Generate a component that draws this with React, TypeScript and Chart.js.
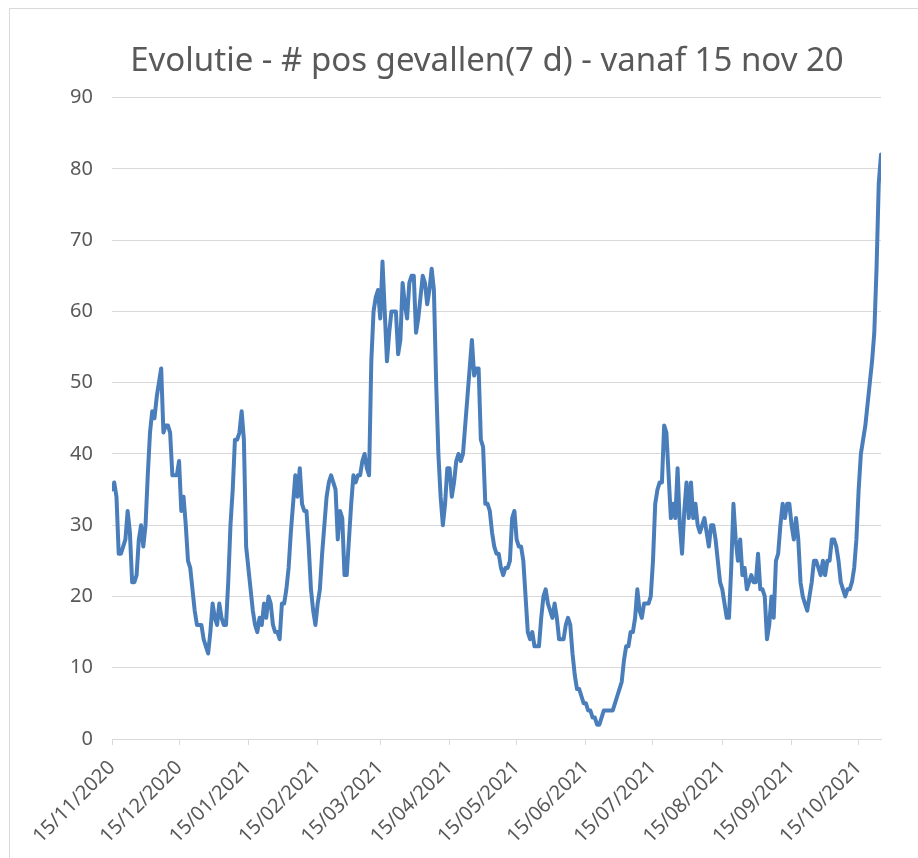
import React, { useEffect, useRef } from "react";
import { Chart, registerables } from "chart.js";

Chart.register(...registerables);

const TITLE = "Evolutie - # pos gevallen(7 d) - vanaf 15 nov 20";

// Daily values, starting 15/11/2020 (day 0) up to 25/10/2021 (day 344)
const VALUES = [
  35, 36, 34, 26, 26, 27, 28, 32, 29, 22,
  22, 23, 28, 30, 27, 30, 37, 43, 46, 45,
  48, 50, 52, 43, 44, 44, 43, 37, 37, 37,
  39, 32, 34, 30, 25, 24, 21, 18, 16, 16,
  16, 14, 13, 12, 15, 19, 17, 16, 19, 17,
  16, 16, 22, 30, 35, 42, 42, 43, 46, 42,
  27, 24, 21, 18, 16, 15, 17, 16, 19, 17,
  20, 19, 16, 15, 15, 14, 19, 19, 21, 24,
  29, 33, 37, 34, 38, 33, 32, 32, 27, 21,
  18, 16, 19, 21, 26, 30, 34, 36, 37, 36,
  35, 28, 32, 31, 23, 23, 28, 33, 37, 36,
  37, 37, 39, 40, 38, 37, 53, 60, 62, 63,
  59, 67, 60, 53, 57, 60, 60, 60, 54, 56,
  64, 61, 59, 64, 65, 65, 57, 59, 62, 65,
  64, 61, 63, 66, 63, 50, 40, 34, 30, 33,
  38, 38, 34, 36, 39, 40, 39, 40, 44, 48,
  52, 56, 51, 52, 52, 42, 41, 33, 33, 32,
  29, 27, 26, 26, 24, 23, 24, 24, 25, 31,
  32, 28, 27, 27, 25, 20, 15, 14, 15, 13,
  13, 13, 17, 20, 21, 19, 18, 17, 19, 17,
  14, 14, 14, 16, 17, 16, 12, 9, 7, 7,
  6, 5, 5, 4, 4, 3, 3, 2, 2, 3,
  4, 4, 4, 4, 4, 5, 6, 7, 8, 11,
  13, 13, 15, 15, 17, 21, 18, 17, 19, 19,
  19, 20, 25, 33, 35, 36, 36, 44, 43, 37,
  31, 33, 31, 38, 30, 26, 32, 36, 31, 36,
  31, 33, 30, 29, 30, 31, 29, 27, 30, 30,
  28, 25, 22, 21, 19, 17, 17, 24, 33, 28,
  25, 28, 23, 24, 21, 22, 23, 22, 22, 26,
  21, 21, 20, 14, 16, 20, 17, 25, 26, 30,
  33, 31, 33, 33, 30, 28, 31, 28, 22, 20,
  19, 18, 20, 22, 25, 25, 24, 23, 25, 23,
  25, 25, 28, 28, 27, 25, 22, 21, 20, 21,
  21, 22, 24, 28, 35, 40, 42, 44, 47, 50,
  53, 57, 66, 78, 82,
];

// Day offsets (from 15/11/2020) of the labelled dates
const TICK_DAYS = [0, 30, 61, 92, 120, 151, 181, 212, 242, 273, 304, 334];
const TICK_LABELS = [
  "15/11/2020",
  "15/12/2020",
  "15/01/2021",
  "15/02/2021",
  "15/03/2021",
  "15/04/2021",
  "15/05/2021",
  "15/06/2021",
  "15/07/2021",
  "15/08/2021",
  "15/09/2021",
  "15/10/2021",
];

const Y_MIN = 0;
const Y_MAX = 90;
const Y_STEP = 10;

const TEXT_COLOR = "#595959";
const GRID_COLOR = "#d9d9d9";
const LINE_COLOR = "#4a7ebb";
const FONT = '"Noto Sans", "Open Sans", sans-serif';

export default function App() {
  const ref = useRef<HTMLCanvasElement>(null);

  useEffect(() => {
    if (!ref.current) return;
    const chart = new Chart(ref.current, {
      type: "line",
      data: {
        datasets: [
          {
            data: VALUES.map((v, i) => ({ x: i, y: v })),
            borderColor: LINE_COLOR,
            borderWidth: 4,
            pointRadius: 0,
            tension: 0,
            borderJoinStyle: "round",
            borderCapStyle: "round",
            fill: false,
          },
        ],
      },
      options: {
        responsive: false,
        animation: false,
        layout: { padding: { left: 56, right: 0, top: 0, bottom: 0 } },
        plugins: {
          legend: { display: false },
          tooltip: { enabled: false },
          title: {
            display: true,
            text: TITLE,
            color: TEXT_COLOR,
            font: { family: FONT, size: 33, weight: "normal", lineHeight: 1.2 },
            padding: { top: 42, bottom: 16 },
          },
        },
        scales: {
          x: {
            type: "linear",
            min: 0,
            max: VALUES.length - 1,
            afterBuildTicks: (s: any) => {
              s.ticks = TICK_DAYS.map((v) => ({ value: v }));
            },
            afterFit: (s: any) => {
              s.height = 119;
            },
            ticks: {
              autoSkip: false,
              maxRotation: 45,
              minRotation: 45,
              color: TEXT_COLOR,
              font: { family: FONT, size: 20 },
              padding: 11,
              callback: (value: any) => {
                const idx = TICK_DAYS.indexOf(Number(value));
                return idx >= 0 ? TICK_LABELS[idx] : null;
              },
            },
            grid: {
              drawOnChartArea: false,
              drawTicks: true,
              tickLength: 6,
              color: GRID_COLOR,
            },
            border: { display: true, color: GRID_COLOR },
          },
          y: {
            min: Y_MIN,
            max: Y_MAX,
            ticks: {
              stepSize: Y_STEP,
              color: TEXT_COLOR,
              font: { family: FONT, size: 20 },
              padding: 19,
            },
            grid: { color: GRID_COLOR, drawTicks: false },
            border: { display: false },
            afterFit: (s: any) => {
              s.width = 56;
            },
          },
          y2: {
            position: "right",
            display: true,
            ticks: { display: false },
            grid: { display: false },
            border: { display: false },
            afterFit: (s: any) => {
              s.width = 37;
            },
          },
        },
      },
    } as any);
    return () => chart.destroy();
  }, []);

  return (
    <div style={{ position: "absolute", left: 0, top: 0, width: 918, height: 858, background: "#fff" }}>
      <div
        style={{
          position: "absolute",
          left: 9,
          top: 8,
          width: 909,
          height: 850,
          borderTop: `1px solid ${GRID_COLOR}`,
          borderLeft: `1px solid ${GRID_COLOR}`,
          boxSizing: "border-box",
        }}
      />
      <canvas ref={ref} width={918} height={858} style={{ position: "absolute", left: 0, top: 0 }} />
    </div>
  );
}
